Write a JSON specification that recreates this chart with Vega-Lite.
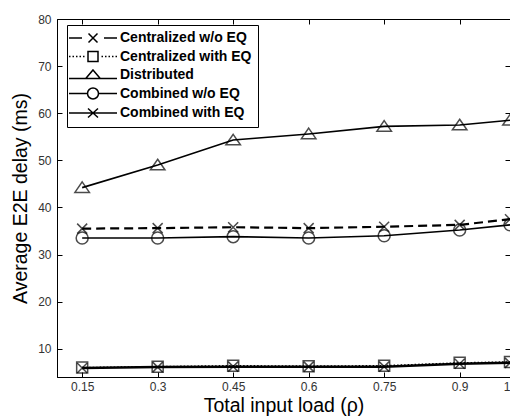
{
  "$schema": "https://vega.github.io/schema/vega-lite/v6.json",
  "width": 453,
  "height": 358,
  "autosize": "none",
  "padding": {"left": 57, "top": 19, "right": 0, "bottom": 42},
  "background": "white",
  "config": {
    "view": {"stroke": "black", "strokeWidth": 1},
    "axis": {
      "grid": false,
      "domainColor": "black",
      "tickColor": "black",
      "tickSize": -5,
      "labelFont": "Liberation Sans",
      "labelFontSize": 12,
      "labelColor": "#333333",
      "titleFont": "Liberation Sans",
      "titleFontSize": 19.5,
      "titleFontWeight": "normal",
      "titleColor": "black"
    }
  },
  "data": {
    "values": [
      {"load": 0.15, "series": "Centralized w/o EQ", "delay": 35.5},
      {"load": 0.3, "series": "Centralized w/o EQ", "delay": 35.6},
      {"load": 0.45, "series": "Centralized w/o EQ", "delay": 35.8},
      {"load": 0.6, "series": "Centralized w/o EQ", "delay": 35.6},
      {"load": 0.75, "series": "Centralized w/o EQ", "delay": 35.9},
      {"load": 0.9, "series": "Centralized w/o EQ", "delay": 36.3},
      {"load": 1.0, "series": "Centralized w/o EQ", "delay": 37.5},
      {"load": 0.15, "series": "Centralized with EQ", "delay": 6.0},
      {"load": 0.3, "series": "Centralized with EQ", "delay": 6.2},
      {"load": 0.45, "series": "Centralized with EQ", "delay": 6.4},
      {"load": 0.6, "series": "Centralized with EQ", "delay": 6.3},
      {"load": 0.75, "series": "Centralized with EQ", "delay": 6.4},
      {"load": 0.9, "series": "Centralized with EQ", "delay": 7.0},
      {"load": 1.0, "series": "Centralized with EQ", "delay": 7.2},
      {"load": 0.15, "series": "Distributed", "delay": 44.2},
      {"load": 0.3, "series": "Distributed", "delay": 49.0},
      {"load": 0.45, "series": "Distributed", "delay": 54.3},
      {"load": 0.6, "series": "Distributed", "delay": 55.6},
      {"load": 0.75, "series": "Distributed", "delay": 57.2},
      {"load": 0.9, "series": "Distributed", "delay": 57.5},
      {"load": 1.0, "series": "Distributed", "delay": 58.5},
      {"load": 0.15, "series": "Combined w/o EQ", "delay": 33.5},
      {"load": 0.3, "series": "Combined w/o EQ", "delay": 33.5},
      {"load": 0.45, "series": "Combined w/o EQ", "delay": 33.8},
      {"load": 0.6, "series": "Combined w/o EQ", "delay": 33.5},
      {"load": 0.75, "series": "Combined w/o EQ", "delay": 34.0},
      {"load": 0.9, "series": "Combined w/o EQ", "delay": 35.2},
      {"load": 1.0, "series": "Combined w/o EQ", "delay": 36.3},
      {"load": 0.15, "series": "Combined with EQ", "delay": 5.9},
      {"load": 0.3, "series": "Combined with EQ", "delay": 6.1},
      {"load": 0.45, "series": "Combined with EQ", "delay": 6.2},
      {"load": 0.6, "series": "Combined with EQ", "delay": 6.2},
      {"load": 0.75, "series": "Combined with EQ", "delay": 6.2},
      {"load": 0.9, "series": "Combined with EQ", "delay": 6.8},
      {"load": 1.0, "series": "Combined with EQ", "delay": 7.0}
    ]
  },
  "resolve": {"axis": {"x": "independent", "y": "independent"}},
  "layer": [
    {
      "encoding": {
        "x": {
          "field": "load", "type": "quantitative",
          "scale": {"domain": [0.1, 1.0], "nice": false, "zero": false},
          "axis": {"values": [0.15, 0.3, 0.45, 0.6, 0.75, 0.9, 1.0], "labelExpr": "format(datum.value, '.2~f')", "labelPadding": 9, "title": "Total input load (ρ)", "titlePadding": 4}
        },
        "y": {
          "field": "delay", "type": "quantitative",
          "scale": {"domain": [4, 80], "nice": false, "zero": false},
          "axis": {"values": [10, 20, 30, 40, 50, 60, 70, 80], "labelPadding": 11, "title": "Average E2E delay (ms)", "titlePadding": 7}
        }
      },
      "layer": [
        {
          "transform": [{"filter": "datum.series === 'Centralized w/o EQ'"}],
          "mark": {"type": "line", "color": "black", "strokeDash": [9, 5], "strokeWidth": 2.2}
        },
        {
          "transform": [{"filter": "datum.series === 'Centralized with EQ'"}],
          "mark": {"type": "line", "color": "black", "strokeDash": [1.5, 2], "strokeWidth": 1.5}
        },
        {
          "transform": [{"filter": "datum.series === 'Distributed'"}],
          "mark": {"type": "line", "color": "black", "strokeWidth": 1.6}
        },
        {
          "transform": [{"filter": "datum.series === 'Combined w/o EQ'"}],
          "mark": {"type": "line", "color": "black", "strokeWidth": 1.6}
        },
        {
          "transform": [{"filter": "datum.series === 'Combined with EQ'"}],
          "mark": {"type": "line", "color": "black", "strokeWidth": 2.5}
        },
        {
          "transform": [{"filter": "datum.series === 'Centralized w/o EQ' || datum.series === 'Combined with EQ'"}],
          "mark": {"type": "point", "filled": false, "color": "black", "strokeWidth": 1.5, "size": 100, "shape": "M-1,-1L1,1M-1,1L1,-1"}
        },
        {
          "transform": [{"filter": "datum.series === 'Centralized with EQ'"}],
          "mark": {"type": "point", "filled": false, "color": "black", "strokeWidth": 1.5, "size": 100, "shape": "M-1.1,-1.1H1.1V1.1H-1.1Z"}
        },
        {
          "transform": [{"filter": "datum.series === 'Distributed'"}],
          "mark": {"type": "point", "filled": false, "color": "black", "strokeWidth": 1.5, "size": 100, "shape": "M0,-1.15L1.45,0.95L-1.45,0.95Z"}
        },
        {
          "transform": [{"filter": "datum.series === 'Combined w/o EQ'"}],
          "mark": {"type": "point", "filled": false, "color": "black", "strokeWidth": 1.5, "size": 100, "shape": "M1.2,0A1.2,1.2 0 1,1 -1.2,0A1.2,1.2 0 1,1 1.2,0Z"}
        },
        {
          "mark": {"type": "point", "filled": false, "color": "black", "strokeWidth": 1.5, "size": 100, "opacity": 0},
          "encoding": {
            "shape": {
              "field": "series", "type": "nominal",
              "scale": {
                "domain": ["Centralized w/o EQ", "Centralized with EQ", "Distributed", "Combined w/o EQ", "Combined with EQ"],
                "range": [
                  "M-4.8,0H-2.2M2.2,0H4.8M-0.9,-0.9L0.9,0.9M-0.9,0.9L0.9,-0.9",
                  "M-4.8,0H-4.5M-4.1,0H-3.8M-3.4,0H-3.1M-2.7,0H-2.4M-2,0H-1.7M1.7,0H2M2.4,0H2.7M3.1,0H3.4M3.8,0H4.1M4.5,0H4.8M-1,-1H1V1H-1Z",
                  "M-4.8,0.7H4.8M0,-1L1.45,0.7L-1.45,0.7Z",
                  "M-4.8,0H-1.1M1.1,0H4.8M1.1,0A1.1,1.1 0 1,1 -1.1,0A1.1,1.1 0 1,1 1.1,0",
                  "M-4.8,0H4.8M-1,-0.9L1,0.9M-1,0.9L1,-0.9"
                ]
              },
              "legend": {
                "orient": "none",
                "legendX": 10,
                "legendY": 6,
                "title": null,
                "strokeColor": "black",
                "fillColor": "white",
                "padding": 6,
                "labelFont": "Liberation Sans",
                "labelFontWeight": "bold",
                "labelFontSize": 14,
                "labelColor": "black",
                "symbolSize": 100,
                "symbolOpacity": 1,
                "symbolOffset": 13,
                "symbolStrokeColor": "black",
                "symbolStrokeWidth": 1.5,
                "symbolFillColor": "transparent",
                "rowPadding": 2.5,
                "labelOffset": 20
              }
            }
          }
        }
      ]
    },
    {
      "mark": {"type": "point", "opacity": 0},
      "encoding": {
        "x": {
          "field": "load", "type": "quantitative",
          "axis": {"orient": "top", "values": [0.15, 0.3, 0.45, 0.6, 0.75, 0.9, 1.0], "labels": false, "title": null, "domain": false}
        },
        "y": {
          "field": "delay", "type": "quantitative",
          "axis": {"orient": "right", "values": [10, 20, 30, 40, 50, 60, 70, 80], "labels": false, "title": null, "domain": false}
        }
      }
    }
  ]
}
